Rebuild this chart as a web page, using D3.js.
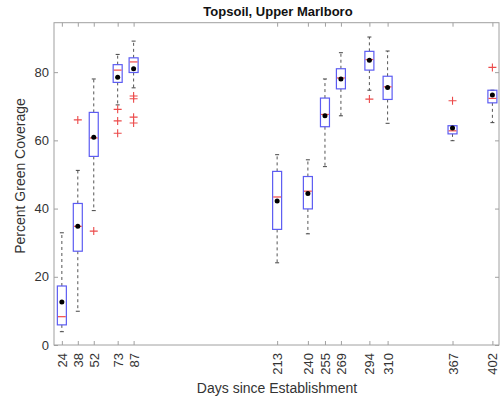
<!DOCTYPE html>
<html><head><meta charset="utf-8">
<script src="https://cdn.jsdelivr.net/npm/d3@7"></script>
<style>body{margin:0;background:#fff}svg{font-family:"Liberation Sans",Arial,sans-serif}</style>
</head><body>
<script>
const days = [24,38,52,73,87,213,240,255,269,294,310,367,402];
const q1 = [5.9,27.5,55.3,77.0,79.9,33.9,39.9,64.0,75.1,80.6,72.0,61.9,71.0];
const med = [8.3,34.8,60.7,80.6,83.0,43.4,45.1,67.6,78.3,83.7,75.7,62.8,72.3];
const q3 = [17.3,41.5,68.2,82.2,84.2,50.9,49.4,72.4,81.0,86.1,78.8,64.3,74.7];
const whiskerLow = [3.9,9.9,39.4,70.4,75.4,24.1,32.6,52.3,67.2,74.7,65.0,59.9,65.2];
const whiskerHigh = [32.9,51.2,78.0,85.2,89.1,55.8,54.3,78.0,85.7,90.3,86.2,64.3,74.7];
const means = [12.6,34.8,60.9,78.5,81.0,42.2,44.4,67.2,78.0,83.5,75.5,63.6,73.3];
const outliers = [[],[66.0],[33.4],[69.1,65.7,62.1],[73.0,72.2,66.8,65.1],[],[],[],[],[72.1],[],[71.6],[81.4]];
const yTicks = [0,20,40,60,80];

const W=503,H=402, L=54, R=499, T=22.7, B=345;
const svg=d3.select("body").append("svg").attr("width",W).attr("height",H);
const x=d3.scaleLinear().domain([17.1,407.8]).range([L,R]);
const y=d3.scaleLinear().domain([0,94.5]).range([B,T]);
const bw=9;

svg.append("rect").attr("x",L).attr("y",T).attr("width",R-L).attr("height",B-T)
  .attr("fill","none").attr("stroke","#a0a0a0").attr("stroke-width",1);

const yAx=d3.axisLeft(y).tickValues(yTicks).tickSizeInner(-4).tickSizeOuter(0).tickPadding(5);
const gy=svg.append("g").attr("transform",`translate(${L},0)`).call(yAx);
gy.select(".domain").remove();
gy.selectAll("line").attr("stroke","#a0a0a0");
gy.selectAll("text").attr("font-size",13).attr("fill","#333").attr("font-family","Liberation Sans, Arial, sans-serif");
const gyr=svg.append("g").attr("transform",`translate(${R},0)`).call(d3.axisRight(y).tickValues(yTicks).tickSizeInner(-4).tickSizeOuter(0).tickFormat(""));
gyr.select(".domain").remove(); gyr.selectAll("line").attr("stroke","#a0a0a0");

const xAx=d3.axisBottom(x).tickValues(days).tickSizeInner(-4).tickSizeOuter(0).tickFormat(d3.format("d"));
const gx=svg.append("g").attr("transform",`translate(0,${B})`).call(xAx);
gx.select(".domain").remove();
gx.selectAll("line").attr("stroke","#a0a0a0");
gx.selectAll("text").attr("font-size",13).attr("fill","#333").attr("font-family","Liberation Sans, Arial, sans-serif")
  .attr("transform","rotate(-90)").attr("text-anchor","end").attr("dy","0.35em").attr("x",-8).attr("y",0);
const gxt=svg.append("g").attr("transform",`translate(0,${T})`).call(d3.axisTop(x).tickValues(days).tickSizeInner(-4).tickSizeOuter(0).tickFormat(""));
gxt.select(".domain").remove(); gxt.selectAll("line").attr("stroke","#a0a0a0");

const g=svg.append("g");
days.forEach((d,i)=>{
  const cx=x(d);
  g.append("line").attr("x1",cx).attr("x2",cx).attr("y1",y(q3[i])).attr("y2",y(whiskerHigh[i]))
   .attr("stroke","#555").attr("stroke-dasharray","3,3");
  g.append("line").attr("x1",cx).attr("x2",cx).attr("y1",y(q1[i])).attr("y2",y(whiskerLow[i]))
   .attr("stroke","#555").attr("stroke-dasharray","3,3");
  [whiskerHigh[i],whiskerLow[i]].forEach(v=>{
    g.append("line").attr("x1",cx-2).attr("x2",cx+2).attr("y1",y(v)).attr("y2",y(v)).attr("stroke","#444");
  });
  g.append("rect").attr("x",cx-bw/2).attr("y",y(q3[i])).attr("width",bw).attr("height",y(q1[i])-y(q3[i]))
   .attr("fill","none").attr("stroke","#5c5cf2").attr("stroke-width",1.2);
  g.append("line").attr("x1",cx-bw/2+0.6).attr("x2",cx+bw/2-0.6).attr("y1",y(med[i])).attr("y2",y(med[i]))
   .attr("stroke","#f04848").attr("stroke-width",1.2);
  g.append("circle").attr("cx",cx).attr("cy",y(means[i])).attr("r",2.5).attr("fill","#000");
  outliers[i].forEach(v=>{
    const py=y(v);
    g.append("path").attr("d",`M${cx-4},${py}H${cx+4}M${cx},${py-4}V${py+4}`)
     .attr("stroke","#ec4a4a").attr("stroke-width",1.1).attr("fill","none");
  });
});

svg.append("text").attr("x",278).attr("y",16).attr("text-anchor","middle")
  .attr("font-size",13).attr("font-weight","bold").attr("fill","#111").text("Topsoil, Upper Marlboro");
svg.append("text").attr("x",277).attr("y",393).attr("text-anchor","middle")
  .attr("font-size",14).attr("fill","#333").text("Days since Establishment");
svg.append("text").attr("transform","translate(25,176) rotate(-90)").attr("text-anchor","middle")
  .attr("font-size",14).attr("fill","#333").text("Percent Green Coverage");
</script>
</body></html>
